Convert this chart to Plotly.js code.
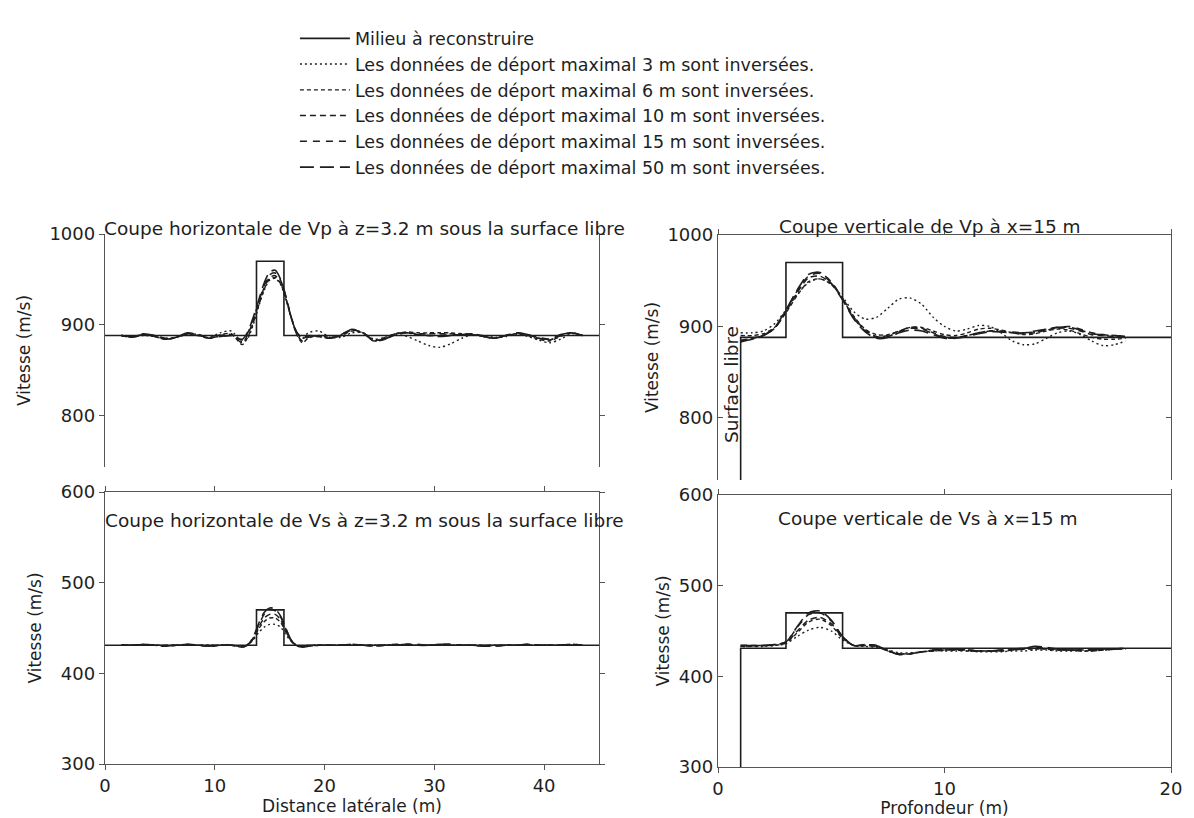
<!DOCTYPE html>
<html><head><meta charset="utf-8">
<script src="https://cdn.plot.ly/plotly-3.0.1.min.js"></script>
<style>html,body{margin:0;padding:0;background:#fff}#chart{width:1194px;height:818px}</style>
</head><body><div id="chart"></div>
<script>
// ---------- DATA ----------
const seriesNames = ["Milieu à reconstruire",
  "Les données de déport maximal 3 m sont inversées.",
  "Les données de déport maximal 6 m sont inversées.",
  "Les données de déport maximal 10 m sont inversées.",
  "Les données de déport maximal 15 m sont inversées.",
  "Les données de déport maximal 50 m sont inversées."];

// horizontal sections (distance latérale, m)
const xh = [1.5,2.5,3.5,4.5,5.5,6.5,7.5,8.5,9.5,10.5,11.5,12.5,13,13.5,14,14.5,15,15.5,16,16.5,17,17.5,18,18.5,19.5,20.5,21.5,22.5,23.5,24.5,25.5,26.5,27.5,28.5,29.5,30.5,31.5,32.5,33.5,34.5,35.5,36.5,37.5,38.5,39.5,40.5,41.5,42.5,43.5];
const xTrueH = [0,13.8,13.8,16.3,16.3,45];
const vpTrueH = [888,888,970,970,888,888];
const vsTrueH = [431,431,470,470,431,431];

const vpH3  = [888,887,888,887,885,886,889,888,886,891,893,881,885,900,920,938,949,951,944,927,906,890,885,891,893,886,886,891,891,884,886,889,887,882,877,875,879,885,889,888,886,887,889,887,883,880,884,890,888];
const vpH6  = [888,886,889,887,884,886,890,888,885,889,890,878,886,902,921,939,950,952,945,928,907,888,880,885,888,886,888,893,891,882,886,890,892,891,891,891,891,890,889,887,885,888,890,888,884,882,887,891,888];
const vpH10 = [888,886,889,887,884,886,890,889,885,888,889,880,889,904,923,941,952,954,946,928,906,889,882,886,887,885,888,894,891,882,885,890,891,890,890,890,890,889,889,887,885,888,890,889,885,883,888,891,888];
const vpH15 = [888,887,889,888,885,886,890,889,886,887,888,883,891,906,925,943,955,957,949,930,907,891,885,887,887,885,889,894,891,883,884,889,891,889,888,888,889,889,890,887,885,888,891,889,886,884,888,891,888];
const vpH50 = [888,887,890,888,884,886,891,889,885,887,888,884,892,908,927,946,958,960,950,930,906,891,886,888,887,885,889,895,891,882,884,890,891,889,888,887,888,889,890,887,885,888,891,889,885,884,889,891,888];

const vsH3  = [431,431,431,431,431,431,431,431,431,431,431,430,432,437,445,451,454,454,451,442,435,431,430,431,431,431,431,431,431,431,431,431,431,431,431,431,431,431,431,431,431,431,431,431,431,431,431,431,431];
const vsH6  = [431,431,431,431,431,431,431,431,431,431,431,430,432,438,449,457,461,461,456,445,435,431,430,431,431,431,431,431,431,431,431,431,431,431,431,431,431,431,431,431,431,431,431,431,431,431,431,431,431];
const vsH10 = [431,431,431,431,430,431,431,431,430,431,431,430,431,438,451,461,465,465,459,446,435,430,430,430,431,431,431,431,431,431,431,431,432,431,431,431,431,431,431,430,431,431,431,431,431,431,431,431,431];
const vsH15 = [431,431,432,431,430,431,432,431,430,431,431,429,431,439,453,465,470,469,462,448,436,430,429,430,431,431,431,432,431,430,431,432,432,432,431,432,432,431,431,430,430,431,431,432,431,431,431,432,431];
const vsH50 = [431,431,432,431,430,431,432,431,430,431,431,429,431,440,455,467,472,471,463,449,436,430,429,430,431,431,431,432,431,430,431,431,432,431,431,432,432,431,431,430,430,431,431,432,431,431,431,432,431];

// vertical sections (profondeur, m)
const dv = [1,1.5,2,2.5,3,3.5,4,4.5,5,5.5,6,6.5,7,7.5,8,8.5,9,9.5,10,10.5,11,11.5,12,12.5,13,13.5,14,14.5,15,15.5,16,16.5,17,17.5,18];
const dTrueV = [0,1,1,3,3,5.5,5.5,20];
const vpTrueV = [0,0,888,888,970,970,888,888];
const vsTrueV = [0,0,431,431,470,470,431,431];

const vpV3  = [893,893,895,903,918,935,948,952,946,932,916,908,910,920,930,931,924,910,900,895,897,901,900,893,884,880,881,887,893,895,891,884,879,880,884];
const vpV6  = [890,890,892,899,915,934,949,952,946,931,911,897,891,891,895,899,899,895,891,890,893,897,898,896,893,891,892,895,897,896,892,888,886,886,887];
const vpV10 = [885,887,890,898,916,937,953,955,947,930,910,896,889,890,895,899,898,893,889,888,890,893,895,894,893,892,893,896,898,898,895,891,890,889,889];
const vpV15 = [884,887,890,898,917,939,955,958,949,930,909,895,888,889,894,898,897,892,888,887,890,893,895,895,894,893,894,897,899,900,897,893,891,890,889];
const vpV50 = [883,886,890,899,918,940,957,959,947,929,908,894,887,888,893,896,895,891,887,887,889,892,894,894,893,893,895,897,899,899,896,892,891,890,889];

const vsV3  = [433,433,433,434,436,444,451,454,450,440,434,433,432,429,426,426,427,428,428,428,428,427,427,427,428,428,429,429,428,428,428,428,429,430,430];
const vsV6  = [433,433,434,434,437,448,460,463,456,442,434,434,433,428,425,425,427,428,429,429,428,428,428,428,429,430,430,430,429,429,428,428,429,430,431];
const vsV10 = [434,434,434,435,437,450,462,465,458,443,434,434,433,428,425,425,427,428,429,429,429,428,428,428,429,430,431,430,429,429,429,429,429,430,431];
const vsV15 = [434,434,434,435,438,454,468,470,461,444,434,435,434,428,424,425,427,429,430,430,429,428,428,429,430,431,432,431,430,429,429,429,430,430,431];
const vsV50 = [434,434,434,435,438,455,470,472,462,444,434,435,434,428,424,425,427,429,430,430,429,428,428,429,430,431,433,432,430,429,429,429,430,430,431];

// ---------- STYLE ----------
const ink = '#1e1e1e';
const dashes = ['solid','2px,3px','4px,3px','6px,4px','7px,6px','14px,6px'];
const widths = [1.6,1.4,1.4,1.5,1.5,1.6];
const FONT = 'DejaVu Sans, sans-serif';

function mk(x, y, i, ax, show){
  return {x:x, y:y, xaxis:'x'+ax, yaxis:'y'+ax, type:'scatter', mode:'lines',
    name:seriesNames[i], showlegend:show, hoverinfo:'skip',
    line:{color:ink, width:widths[i], dash:dashes[i], shape: i===0 ? 'linear' : 'spline', smoothing:0.8}};
}
const traces = [];
const panels = [
  [xTrueH, vpTrueH, xh, [vpH3,vpH6,vpH10,vpH15,vpH50], ''],
  [dTrueV, vpTrueV, dv, [vpV3,vpV6,vpV10,vpV15,vpV50], '2'],
  [xTrueH, vsTrueH, xh, [vsH3,vsH6,vsH10,vsH15,vsH50], '3'],
  [dTrueV, vsTrueV, dv, [vsV3,vsV6,vsV10,vsV15,vsV50], '4']
];
panels.forEach((p, k) => {
  traces.push(mk(p[0], p[1], 0, p[4], k===0));
  p[3].forEach((s, j) => traces.push(mk(p[2], s, j+1, p[4], k===0)));
});

const W = 1194, H = 818;
const dx = (a,b) => [a/W, b/W];
const dy = (top,bot) => [1-bot/H, 1-top/H];
const tickF = {family:FONT, size:18, color:ink};
const titleF = {family:FONT, size:17, color:ink};
const panelF = {family:FONT, size:18.5, color:ink};
const baseY = {showline:true, linecolor:'#555', linewidth:1.2, mirror:'ticks', ticks:'outside', ticklen:5,
  tickcolor:'#555', showgrid:false, zeroline:false, tickfont:tickF, fixedrange:true};
const baseX = {showline:true, linecolor:'#555', linewidth:1.2, ticks:'outside', ticklen:5,
  tickcolor:'#555', showgrid:false, zeroline:false, tickfont:tickF, fixedrange:true};

const layout = {
  width:W, height:H, margin:{l:0,r:0,t:0,b:0}, paper_bgcolor:'#fff', plot_bgcolor:'#fff',
  font:{family:FONT, color:ink},
  showlegend:true,
  legend:{x:0.247, y:0.975, xanchor:'left', yanchor:'top', font:{family:FONT, size:17.5, color:ink},
    bgcolor:'rgba(0,0,0,0)', tracegroupgap:0, itemwidth:50},
  xaxis:Object.assign({}, baseX, {domain:dx(105,599), range:[0,45], anchor:'y', showline:false, ticks:'', showticklabels:false}),
  yaxis:Object.assign({}, baseY, {domain:dy(234,467), range:[743,1000], anchor:'x', tickvals:[800,900,1000],
    title:{text:'Vitesse (m/s)', font:titleF, standoff:14}}),
  xaxis2:Object.assign({}, baseX, {domain:dx(718,1171), range:[0,20], anchor:'y2', side:'top', tickvals:[0,10,20], showticklabels:false}),
  yaxis2:Object.assign({}, baseY, {domain:dy(235,480), range:[732,1000], anchor:'x2', tickvals:[800,900,1000], ticks:'inside',
    title:{text:'Vitesse (m/s)', font:titleF, standoff:4}}),
  xaxis3:Object.assign({}, baseX, {domain:dx(105,599), range:[0,45], anchor:'y3', mirror:'ticks', tickvals:[0,10,20,30,40],
    title:{text:'Distance latérale (m)', font:titleF, standoff:4}}),
  yaxis3:Object.assign({}, baseY, {domain:dy(492,764), range:[300,600], anchor:'x3', tickvals:[300,400,500,600],
    title:{text:'Vitesse (m/s)', font:titleF, standoff:14}}),
  xaxis4:Object.assign({}, baseX, {domain:dx(718,1171), range:[0,20], anchor:'y4', mirror:'ticks', tickvals:[0,10,20],
    title:{text:'Profondeur (m)', font:titleF, standoff:4}}),
  yaxis4:Object.assign({}, baseY, {domain:dy(495,767), range:[300,600], anchor:'x4', tickvals:[300,400,500,600], ticks:'inside',
    title:{text:'Vitesse (m/s)', font:titleF, standoff:4}}),
  annotations:[
    {text:'Coupe horizontale de Vp à z=3.2 m sous la surface libre', xref:'paper', yref:'paper', x:364/W, y:1-228/H,
      xanchor:'center', yanchor:'middle', showarrow:false, font:panelF},
    {text:'Coupe verticale de Vp à x=15 m', xref:'paper', yref:'paper', x:930/W, y:1-226/H,
      xanchor:'center', yanchor:'middle', showarrow:false, font:panelF},
    {text:'Coupe horizontale de Vs à z=3.2 m sous la surface libre', xref:'paper', yref:'paper', x:364/W, y:1-520/H,
      xanchor:'center', yanchor:'middle', showarrow:false, font:panelF},
    {text:'Coupe verticale de Vs à x=15 m', xref:'paper', yref:'paper', x:928/W, y:1-518/H,
      xanchor:'center', yanchor:'middle', showarrow:false, font:panelF},
    {text:'Surface libre', xref:'paper', yref:'paper', x:731/W, y:1-385/H, textangle:-90,
      xanchor:'center', yanchor:'middle', showarrow:false, font:panelF}
  ]
};
Plotly.newPlot('chart', traces, layout, {staticPlot:true, displayModeBar:false});
</script></body></html>
